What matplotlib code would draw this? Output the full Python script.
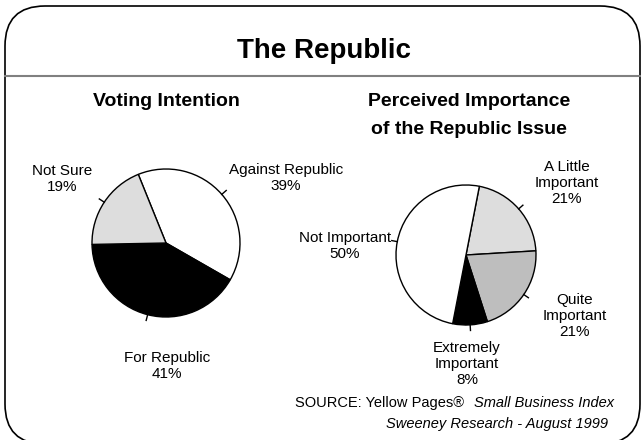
import matplotlib
matplotlib.use("Agg")
import matplotlib.pyplot as plt
from matplotlib.patches import FancyBboxPatch
import numpy as np

plt.rcParams['font.family'] = ['Liberation Sans', 'DejaVu Sans']

# ---- data ----
title = "The Republic"
left_title = "Voting Intention"
left_labels = ["Against Republic", "For Republic", "Not Sure"]
left_values = [39, 41, 19]
left_colors = ["#FFFFFF", "#000000", "#DDDDDD"]

right_title = ["Perceived Importance", "of the Republic Issue"]
right_labels = ["A Little\nImportant", "Quite\nImportant", "Extremely\nImportant", "Not Important"]
right_values = [21, 21, 8, 50]
right_colors = ["#DDDDDD", "#BEBEBE", "#000000", "#FFFFFF"]

W, H = 641, 440
fig = plt.figure(figsize=(W / 100, H / 100), dpi=100)

bg = fig.add_axes([0, 0, 1, 1])
bg.set_xlim(0, W)
bg.set_ylim(H, 0)
bg.axis('off')
frame = FancyBboxPatch((5, 6), 635, 438, boxstyle="round,pad=0,rounding_size=40",
                       fc='white', ec='black', lw=1.2)
bg.add_patch(frame)
bg.plot([5, 640], [76, 76], color='#808080', lw=1.5)

bg.text(324, 51, title, ha='center', va='center', fontsize=20, fontweight='bold')
bg.text(166, 101, left_title, ha='center', va='center', fontsize=14, fontweight='bold')
bg.text(469, 101, right_title[0], ha='center', va='center', fontsize=14, fontweight='bold')
bg.text(469, 130, right_title[1], ha='center', va='center', fontsize=14, fontweight='bold')


def pie_axes(cx, cy, r, values, colors, start):
    half = r * 1.25
    ax = fig.add_axes([(cx - half) / W, 1 - (cy + half) / H, 2 * half / W, 2 * half / H])
    wedges, _ = ax.pie(values, colors=colors, startangle=start, counterclock=False,
                       wedgeprops=dict(edgecolor='black', linewidth=1.0))
    ax.set_xlim(-1.25, 1.25)
    ax.set_ylim(-1.25, 1.25)
    ax.set_aspect('equal')
    ax.axis('off')
    for w in wedges:
        mid = np.deg2rad((w.theta1 + w.theta2) / 2)
        ax.plot([np.cos(mid), 1.08 * np.cos(mid)], [np.sin(mid), 1.08 * np.sin(mid)],
                color='black', lw=1.0)
    return ax


pie_axes(166, 243, 74, left_values, left_colors, 112)
pie_axes(466, 255, 70, right_values, right_colors, 79)

fs = 11
# left labels
bg.text(286, 178, f"{left_labels[0]}\n{left_values[0]}%", ha='center', va='center', fontsize=fs)
bg.text(167, 366, f"{left_labels[1]}\n{left_values[1]}%", ha='center', va='center', fontsize=fs)
bg.text(62, 179, f"{left_labels[2]}\n{left_values[2]}%", ha='center', va='center', fontsize=fs)
# right labels
bg.text(567, 183, f"{right_labels[0]}\n{right_values[0]}%", ha='center', va='center', fontsize=fs)
bg.text(575, 316, f"{right_labels[1]}\n{right_values[1]}%", ha='center', va='center', fontsize=fs)
bg.text(467, 364, f"{right_labels[2]}\n{right_values[2]}%", ha='center', va='center', fontsize=fs)
bg.text(345, 246, f"{right_labels[3]}\n{right_values[3]}%", ha='center', va='center', fontsize=fs)

bg.text(614, 403, "Small Business Index", ha='right', va='center', fontsize=10.5, style='italic')
bg.text(464, 403, "SOURCE: Yellow Pages®", ha='right', va='center', fontsize=10.5)
bg.text(608, 424, "Sweeney Research - August 1999", ha='right', va='center', fontsize=10.5, style='italic')

fig.savefig("out.png", dpi=100)
